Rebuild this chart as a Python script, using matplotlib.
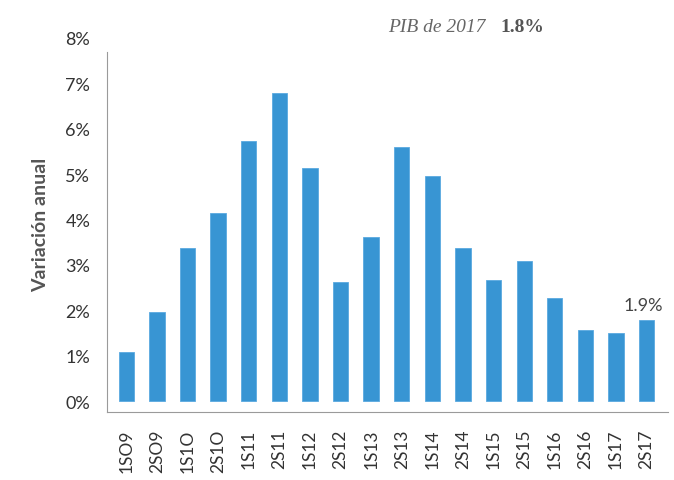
import matplotlib.pyplot as plt
import numpy as np

# datos (variacion anual, %)
periodos = ['1SO9', '2SO9', '1S1O', '2S1O', '1S11', '2S11', '1S12', '2S12', '1S13',
            '2S13', '1S14', '2S14', '1S15', '2S15', '1S16', '2S16', '1S17', '2S17']
variacion = [1.08, 1.96, 3.37, 4.14, 5.73, 6.78, 5.13, 2.62, 3.61,
             5.59, 4.96, 3.37, 2.67, 3.08, 2.27, 1.56, 1.50, 1.78]
yticks = [0, 1, 2, 3, 4, 5, 6, 7, 8]
etiqueta_final = '1.9%'

fuente = ['Lato', 'DejaVu Sans']
fig = plt.figure(figsize=(6.74, 4.81), dpi=100)
ax = fig.add_axes([107/674, 1-413/481, (668-107)/674, (413-36.5)/481])

x = np.arange(len(periodos))
ax.bar(x, variacion, width=0.5, color='#3895d3', edgecolor='#5aa9e0', linewidth=0.6)

ax.set_xlim(-0.63, 17.7)
ax.set_ylim(-0.24, 8.05)
ax.set_yticks(yticks)
ax.set_yticklabels([f'{v}%' for v in yticks], family=fuente, fontsize=13,
                   color='#333333')
ax.set_xticks(x)
ax.set_xticklabels(periodos, rotation=90, family=fuente, fontsize=12.5,
                   color='#333333')
ax.tick_params(axis='both', length=0)
ax.tick_params(axis='y', pad=12)
ax.tick_params(axis='x', pad=12)

for s in ['top', 'right']:
    ax.spines[s].set_visible(False)
ax.spines['left'].set_bounds(-0.24, 7.69)
ax.spines['left'].set_color('#9a9a9a')
ax.spines['bottom'].set_color('#9a9a9a')

ax.set_ylabel('Variación anual', family=fuente, fontsize=14, fontweight='bold',
              color='#555555', labelpad=12)

ax.text(x[-1] - 0.1, variacion[-1] + 0.15, etiqueta_final, ha='center', va='bottom',
        family=fuente, fontsize=13, color='#444444')

# titulo superior
fig.text(388/674, 1-27/481, 'PIB de 2017', family='Liberation Serif', style='italic',
         fontsize=14, color='#666666', va='center', ha='left')
fig.text(500/674, 1-27/481, '1.8%', family='Liberation Serif', fontweight='bold',
         fontsize=14, color='#555555', va='center', ha='left')

fig.savefig('out.png', dpi=100)
